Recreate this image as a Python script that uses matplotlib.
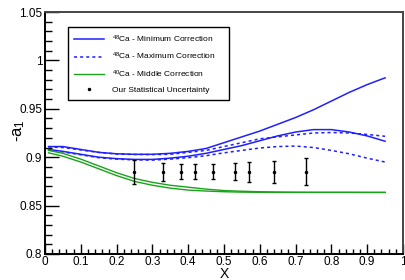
import matplotlib
matplotlib.use("Agg")
import matplotlib.pyplot as plt
from matplotlib.ticker import MultipleLocator
from matplotlib.lines import Line2D

plt.rcParams['font.family'] = ['Liberation Sans', 'DejaVu Sans']
plt.rcParams['mathtext.default'] = 'regular'

# curves
x_curve = [0.01, 0.05, 0.1, 0.15, 0.2, 0.25, 0.3, 0.35, 0.4, 0.45,
           0.5, 0.55, 0.6, 0.65, 0.7, 0.75, 0.8, 0.85, 0.9, 0.95]
ca48_min_up = [0.911, 0.911, 0.908, 0.905, 0.9035, 0.903, 0.903, 0.904, 0.906, 0.909,
               0.915, 0.921, 0.927, 0.934, 0.941, 0.949, 0.958, 0.967, 0.975, 0.982]
ca48_min_lo = [0.908, 0.906, 0.903, 0.900, 0.8985, 0.8977, 0.8977, 0.899, 0.901, 0.904,
               0.908, 0.912, 0.917, 0.922, 0.926, 0.9285, 0.9285, 0.926, 0.922, 0.9165]
ca48_max_up = [0.9105, 0.910, 0.9075, 0.905, 0.9033, 0.9028, 0.9027, 0.903, 0.905, 0.907,
               0.911, 0.915, 0.919, 0.921, 0.923, 0.925, 0.9255, 0.925, 0.9235, 0.9216]
ca48_max_lo = [0.9075, 0.9055, 0.9025, 0.8995, 0.898, 0.8972, 0.897, 0.898, 0.8995, 0.9015,
               0.9045, 0.907, 0.9095, 0.911, 0.9115, 0.910, 0.907, 0.9035, 0.899, 0.895]
ca40_up = [0.907, 0.904, 0.898, 0.891, 0.884, 0.878, 0.874, 0.871, 0.869, 0.867,
           0.8655, 0.8648, 0.8643, 0.864, 0.8638, 0.8637, 0.8637, 0.8637, 0.8636, 0.8636]
ca40_lo = [0.9045, 0.901, 0.895, 0.888, 0.881, 0.875, 0.871, 0.868, 0.866, 0.865,
           0.8643, 0.8639, 0.8637, 0.8636, 0.8636, 0.8636, 0.8636, 0.8636, 0.8636, 0.8636]

# statistical points
x_pts = [0.25, 0.33, 0.38, 0.42, 0.47, 0.53, 0.57, 0.64, 0.73]
y_pts = [0.885, 0.885, 0.885, 0.885, 0.885, 0.885, 0.885, 0.885, 0.885]
err_pts = [0.0125, 0.0095, 0.0078, 0.0075, 0.0077, 0.0088, 0.0103, 0.0115, 0.014]

labels = [r'$^{48}$Ca - Minimum Correction', r'$^{48}$Ca - Maximum Correction',
          r'$^{40}$Ca - Middle Correction', 'Our Statistical Uncertainty']

blue = '#2020ff'
green = '#1aa31a'

fig = plt.figure(figsize=(4.05, 2.8), dpi=100)
ax = fig.add_axes([0.111, 0.093, 0.884, 0.864])

ax.plot(x_curve, ca48_min_up, color=blue, lw=1.1)
ax.plot(x_curve, ca48_min_lo, color=blue, lw=1.1)
ax.plot(x_curve, ca48_max_up, color=blue, lw=1.1, ls=(0, (2, 2)))
ax.plot(x_curve, ca48_max_lo, color=blue, lw=1.1, ls=(0, (2, 2)))
ax.plot(x_curve, ca40_up, color=green, lw=1.0)
ax.plot(x_curve, ca40_lo, color=green, lw=1.0)
ax.errorbar(x_pts, y_pts, yerr=err_pts, fmt='o', ms=1.5, color='black',
            elinewidth=1.0, capsize=1.5, capthick=1.0)

ax.set_xlim(0, 1)
ax.set_ylim(0.8, 1.05)
ax.xaxis.set_minor_locator(MultipleLocator(0.02))
ax.yaxis.set_minor_locator(MultipleLocator(0.01))
ax.set_xticks([0, 0.1, 0.2, 0.3, 0.4, 0.5, 0.6, 0.7, 0.8, 0.9, 1.0])
ax.set_xticklabels(['0', '0.1', '0.2', '0.3', '0.4', '0.5', '0.6', '0.7', '0.8', '0.9', '1'])
ax.set_yticks([0.8, 0.85, 0.9, 0.95, 1.0, 1.05])
ax.set_yticklabels(['0.8', '0.85', '0.9', '0.95', '1', '1.05'])
ax.tick_params(which='both', direction='in', top=False, right=False, labelsize=8.5, width=1.0)
ax.tick_params(axis='y', which='major', length=10, pad=2)
ax.tick_params(axis='y', which='minor', length=5)
ax.tick_params(axis='x', which='major', length=7, pad=1.5)
ax.tick_params(axis='x', which='minor', length=3.5)

for s in ['left', 'bottom']:
    ax.spines[s].set_linewidth(1.4)
    ax.spines[s].set_color('black')
for s in ['top', 'right']:
    ax.spines[s].set_linewidth(1.4)
    ax.spines[s].set_color('#444444')

ax.set_xlabel('X', fontsize=10, labelpad=-0.5)
ax.set_ylabel('-a$_1$', fontsize=12)
ax.yaxis.set_label_coords(-0.05, 0.51)

handles = [Line2D([], [], color=blue, lw=1.1),
           Line2D([], [], color=blue, lw=1.1, ls=(0, (2, 2))),
           Line2D([], [], color=green, lw=1.0),
           Line2D([], [], color='black', marker='o', ms=1.5, ls='none')]
leg = ax.legend(handles, labels, loc='upper left', bbox_to_anchor=(0.064, 0.938, 0.45, 0.0),
                mode='expand', fontsize=6, frameon=True, fancybox=False, framealpha=1,
                edgecolor='black', labelspacing=0.75, handlelength=3.6, handletextpad=0.9,
                borderaxespad=0, borderpad=0.75)
leg.get_frame().set_linewidth(1.0)

fig.savefig('out.png', dpi=100)
